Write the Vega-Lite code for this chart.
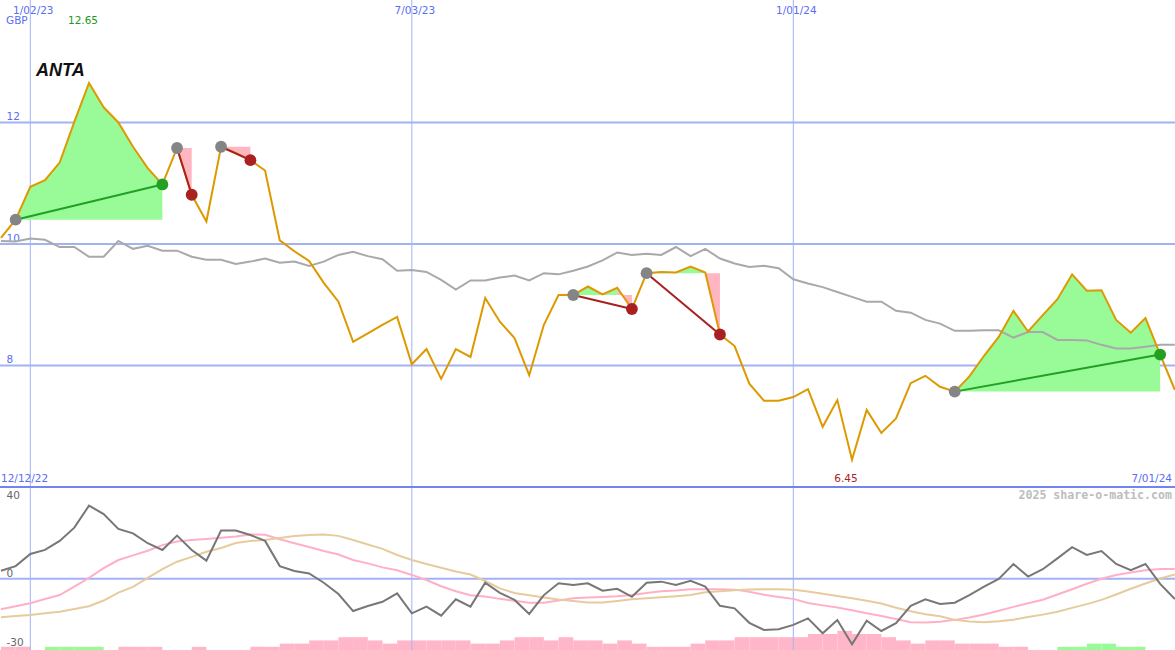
{
"$schema": "https://vega.github.io/schema/vega-lite/v6.json",
"background": "white",
"padding": 0,
"spacing": 0,
"config": {"view": {"stroke": null}, "axis": {"labelFont": "DejaVu Sans", "labelFontSize": 10.5, "titleFont": "DejaVu Sans", "titleFontSize": 10.5, "titleFontWeight": "normal"}, "text": {"font": "DejaVu Sans", "fontSize": 10.5}},
"datasets": {
"weekly": [
{"d":"2022-12-19","c":10.10,"ma":10.05,"o":3.8,"s1":-14.5,"s2":-18.3},
{"d":"2022-12-26","c":10.40,"ma":10.04,"o":6.0,"s1":-13.1,"s2":-17.8},
{"d":"2023-01-02","c":10.94,"ma":10.09,"o":11.8,"s1":-11.7,"s2":-17.3},
{"d":"2023-01-09","c":11.05,"ma":10.07,"o":13.7,"s1":-9.7,"s2":-16.5},
{"d":"2023-01-16","c":11.34,"ma":9.95,"o":18.0,"s1":-7.8,"s2":-15.7},
{"d":"2023-01-23","c":12.01,"ma":9.95,"o":24.3,"s1":-3.8,"s2":-14.4},
{"d":"2023-01-30","c":12.65,"ma":9.79,"o":34.8,"s1":0.4,"s2":-13.1},
{"d":"2023-02-06","c":12.25,"ma":9.79,"o":30.8,"s1":5.0,"s2":-10.4},
{"d":"2023-02-13","c":12.00,"ma":10.05,"o":23.7,"s1":8.9,"s2":-6.6},
{"d":"2023-02-20","c":11.60,"ma":9.92,"o":21.6,"s1":11.1,"s2":-3.9},
{"d":"2023-02-27","c":11.25,"ma":9.97,"o":16.9,"s1":13.3,"s2":0.4},
{"d":"2023-03-06","c":10.98,"ma":9.89,"o":13.7,"s1":16.0,"s2":4.6},
{"d":"2023-03-13","c":11.58,"ma":9.89,"o":20.5,"s1":17.7,"s2":8.1},
{"d":"2023-03-20","c":10.81,"ma":9.79,"o":13.7,"s1":18.4,"s2":10.4},
{"d":"2023-03-27","c":10.37,"ma":9.74,"o":8.6,"s1":18.9,"s2":12.8},
{"d":"2023-04-03","c":11.60,"ma":9.74,"o":22.9,"s1":19.5,"s2":14.6},
{"d":"2023-04-10","c":11.50,"ma":9.67,"o":22.9,"s1":20.1,"s2":17.0},
{"d":"2023-04-17","c":11.38,"ma":9.71,"o":20.8,"s1":21.1,"s2":18.0},
{"d":"2023-04-24","c":11.21,"ma":9.76,"o":18.0,"s1":20.9,"s2":18.4},
{"d":"2023-05-01","c":10.06,"ma":9.69,"o":6.0,"s1":18.8,"s2":19.4},
{"d":"2023-05-08","c":9.88,"ma":9.71,"o":3.7,"s1":16.9,"s2":20.3},
{"d":"2023-05-15","c":9.72,"ma":9.64,"o":2.5,"s1":15.1,"s2":20.8},
{"d":"2023-05-22","c":9.36,"ma":9.71,"o":-1.9,"s1":13.2,"s2":21.1},
{"d":"2023-05-29","c":9.05,"ma":9.82,"o":-7.3,"s1":11.5,"s2":20.4},
{"d":"2023-06-05","c":8.39,"ma":9.87,"o":-15.4,"s1":8.9,"s2":18.4},
{"d":"2023-06-12","c":8.53,"ma":9.80,"o":-13.0,"s1":7.3,"s2":16.3},
{"d":"2023-06-19","c":8.67,"ma":9.75,"o":-11.0,"s1":5.4,"s2":14.2},
{"d":"2023-06-26","c":8.80,"ma":9.56,"o":-7.0,"s1":4.0,"s2":11.3},
{"d":"2023-07-03","c":8.02,"ma":9.57,"o":-16.5,"s1":1.8,"s2":8.9},
{"d":"2023-07-10","c":8.27,"ma":9.54,"o":-13.3,"s1":-0.6,"s2":7.0},
{"d":"2023-07-17","c":7.78,"ma":9.41,"o":-17.6,"s1":-3.6,"s2":5.2},
{"d":"2023-07-24","c":8.27,"ma":9.25,"o":-9.8,"s1":-6.0,"s2":3.4},
{"d":"2023-07-31","c":8.14,"ma":9.40,"o":-13.3,"s1":-7.9,"s2":2.0},
{"d":"2023-08-07","c":9.11,"ma":9.40,"o":-1.9,"s1":-8.5,"s2":-1.1},
{"d":"2023-08-14","c":8.72,"ma":9.45,"o":-6.7,"s1":-9.6,"s2":-4.6},
{"d":"2023-08-21","c":8.45,"ma":9.48,"o":-10.1,"s1":-10.5,"s2":-6.8},
{"d":"2023-08-28","c":7.84,"ma":9.40,"o":-16.8,"s1":-11.4,"s2":-7.9},
{"d":"2023-09-04","c":8.67,"ma":9.52,"o":-7.8,"s1":-11.4,"s2":-8.9},
{"d":"2023-09-11","c":9.16,"ma":9.50,"o":-2.2,"s1":-10.4,"s2":-9.9},
{"d":"2023-09-18","c":9.16,"ma":9.56,"o":-3.0,"s1":-9.3,"s2":-10.6},
{"d":"2023-09-25","c":9.30,"ma":9.63,"o":-2.2,"s1":-8.9,"s2":-11.3},
{"d":"2023-10-02","c":9.17,"ma":9.73,"o":-5.7,"s1":-8.7,"s2":-11.3},
{"d":"2023-10-09","c":9.28,"ma":9.86,"o":-4.8,"s1":-8.4,"s2":-10.6},
{"d":"2023-10-16","c":8.93,"ma":9.82,"o":-8.6,"s1":-7.8,"s2":-9.8},
{"d":"2023-10-23","c":9.52,"ma":9.84,"o":-1.9,"s1":-6.8,"s2":-9.3},
{"d":"2023-10-30","c":9.54,"ma":9.82,"o":-1.4,"s1":-6.0,"s2":-8.8},
{"d":"2023-11-06","c":9.53,"ma":9.95,"o":-3.0,"s1":-5.6,"s2":-8.3},
{"d":"2023-11-13","c":9.63,"ma":9.80,"o":-1.0,"s1":-5.0,"s2":-7.8},
{"d":"2023-11-20","c":9.53,"ma":9.92,"o":-3.8,"s1":-5.0,"s2":-6.5},
{"d":"2023-11-27","c":8.51,"ma":9.76,"o":-12.9,"s1":-5.0,"s2":-6.0},
{"d":"2023-12-04","c":8.32,"ma":9.68,"o":-14.1,"s1":-5.2,"s2":-5.5},
{"d":"2023-12-11","c":7.70,"ma":9.62,"o":-21.0,"s1":-6.2,"s2":-5.1},
{"d":"2023-12-18","c":7.42,"ma":9.64,"o":-24.4,"s1":-7.6,"s2":-5.0},
{"d":"2023-12-25","c":7.42,"ma":9.60,"o":-24.1,"s1":-8.7,"s2":-5.0},
{"d":"2024-01-01","c":7.48,"ma":9.42,"o":-22.0,"s1":-9.6,"s2":-5.3},
{"d":"2024-01-08","c":7.61,"ma":9.35,"o":-18.9,"s1":-11.6,"s2":-6.1},
{"d":"2024-01-15","c":6.99,"ma":9.29,"o":-26.0,"s1":-12.7,"s2":-7.2},
{"d":"2024-01-22","c":7.43,"ma":9.21,"o":-19.7,"s1":-13.7,"s2":-8.2},
{"d":"2024-01-29","c":6.45,"ma":9.13,"o":-31.2,"s1":-15.0,"s2":-9.3},
{"d":"2024-02-05","c":7.27,"ma":9.05,"o":-20.0,"s1":-16.4,"s2":-10.5},
{"d":"2024-02-12","c":6.89,"ma":9.05,"o":-24.9,"s1":-17.8,"s2":-11.8},
{"d":"2024-02-19","c":7.13,"ma":8.90,"o":-21.2,"s1":-19.2,"s2":-13.8},
{"d":"2024-02-26","c":7.71,"ma":8.87,"o":-12.9,"s1":-20.7,"s2":-15.5},
{"d":"2024-03-04","c":7.83,"ma":8.75,"o":-9.8,"s1":-20.9,"s2":-16.9},
{"d":"2024-03-11","c":7.65,"ma":8.69,"o":-12.0,"s1":-20.5,"s2":-17.9},
{"d":"2024-03-18","c":7.57,"ma":8.57,"o":-11.4,"s1":-19.6,"s2":-19.6},
{"d":"2024-03-25","c":7.82,"ma":8.57,"o":-7.8,"s1":-18.5,"s2":-20.4},
{"d":"2024-04-01","c":8.16,"ma":8.58,"o":-3.8,"s1":-17.0,"s2":-20.7},
{"d":"2024-04-08","c":8.47,"ma":8.58,"o":-0.1,"s1":-15.3,"s2":-20.3},
{"d":"2024-04-15","c":8.90,"ma":8.46,"o":7.0,"s1":-13.4,"s2":-19.5},
{"d":"2024-04-22","c":8.56,"ma":8.55,"o":1.0,"s1":-11.7,"s2":-18.2},
{"d":"2024-04-29","c":8.83,"ma":8.55,"o":4.5,"s1":-10.0,"s2":-17.1},
{"d":"2024-05-06","c":9.09,"ma":8.42,"o":9.7,"s1":-7.5,"s2":-15.7},
{"d":"2024-05-13","c":9.50,"ma":8.42,"o":15.0,"s1":-5.0,"s2":-13.9},
{"d":"2024-05-20","c":9.23,"ma":8.41,"o":11.3,"s1":-2.4,"s2":-12.1},
{"d":"2024-05-27","c":9.24,"ma":8.34,"o":13.2,"s1":0.0,"s2":-10.1},
{"d":"2024-06-03","c":8.75,"ma":8.28,"o":7.0,"s1":1.8,"s2":-7.5},
{"d":"2024-06-10","c":8.54,"ma":8.28,"o":4.1,"s1":3.0,"s2":-4.8},
{"d":"2024-06-17","c":8.78,"ma":8.31,"o":7.0,"s1":4.0,"s2":-2.3},
{"d":"2024-06-24","c":8.18,"ma":8.34,"o":-2.5,"s1":4.6,"s2":0.1},
{"d":"2024-07-01","c":7.60,"ma":8.34,"o":-9.7,"s1":4.6,"s2":2.0}
],
"hist": [
{"d":"2022-12-19","e":"2022-12-26","h":1,"dir":"down"},
{"d":"2022-12-26","e":"2023-01-02","h":1,"dir":"down"},
{"d":"2023-01-09","e":"2023-01-16","h":1,"dir":"up"},
{"d":"2023-01-16","e":"2023-01-23","h":1,"dir":"up"},
{"d":"2023-01-23","e":"2023-01-30","h":1,"dir":"up"},
{"d":"2023-01-30","e":"2023-02-06","h":1,"dir":"up"},
{"d":"2023-02-13","e":"2023-02-20","h":1,"dir":"down"},
{"d":"2023-02-20","e":"2023-02-27","h":1,"dir":"down"},
{"d":"2023-02-27","e":"2023-03-06","h":1,"dir":"down"},
{"d":"2023-03-20","e":"2023-03-27","h":1,"dir":"down"},
{"d":"2023-04-17","e":"2023-04-24","h":1,"dir":"down"},
{"d":"2023-04-24","e":"2023-05-01","h":1,"dir":"down"},
{"d":"2023-05-01","e":"2023-05-08","h":2,"dir":"down"},
{"d":"2023-05-08","e":"2023-05-15","h":2,"dir":"down"},
{"d":"2023-05-15","e":"2023-05-22","h":3,"dir":"down"},
{"d":"2023-05-22","e":"2023-05-29","h":3,"dir":"down"},
{"d":"2023-05-29","e":"2023-06-05","h":4,"dir":"down"},
{"d":"2023-06-05","e":"2023-06-12","h":4,"dir":"down"},
{"d":"2023-06-12","e":"2023-06-19","h":3,"dir":"down"},
{"d":"2023-06-19","e":"2023-06-26","h":2,"dir":"down"},
{"d":"2023-06-26","e":"2023-07-03","h":3,"dir":"down"},
{"d":"2023-07-03","e":"2023-07-10","h":3,"dir":"down"},
{"d":"2023-07-10","e":"2023-07-17","h":3,"dir":"down"},
{"d":"2023-07-17","e":"2023-07-24","h":3,"dir":"down"},
{"d":"2023-07-24","e":"2023-07-31","h":3,"dir":"down"},
{"d":"2023-07-31","e":"2023-08-07","h":2,"dir":"down"},
{"d":"2023-08-07","e":"2023-08-14","h":2,"dir":"down"},
{"d":"2023-08-14","e":"2023-08-21","h":3,"dir":"down"},
{"d":"2023-08-21","e":"2023-08-28","h":4,"dir":"down"},
{"d":"2023-08-28","e":"2023-09-04","h":4,"dir":"down"},
{"d":"2023-09-04","e":"2023-09-11","h":3,"dir":"down"},
{"d":"2023-09-11","e":"2023-09-18","h":4,"dir":"down"},
{"d":"2023-09-18","e":"2023-09-25","h":3,"dir":"down"},
{"d":"2023-09-25","e":"2023-10-02","h":3,"dir":"down"},
{"d":"2023-10-02","e":"2023-10-09","h":2,"dir":"down"},
{"d":"2023-10-09","e":"2023-10-16","h":3,"dir":"down"},
{"d":"2023-10-16","e":"2023-10-23","h":2,"dir":"down"},
{"d":"2023-10-23","e":"2023-10-30","h":1,"dir":"down"},
{"d":"2023-10-30","e":"2023-11-06","h":1,"dir":"down"},
{"d":"2023-11-06","e":"2023-11-13","h":1,"dir":"down"},
{"d":"2023-11-13","e":"2023-11-20","h":2,"dir":"down"},
{"d":"2023-11-20","e":"2023-11-27","h":3,"dir":"down"},
{"d":"2023-11-27","e":"2023-12-04","h":3,"dir":"down"},
{"d":"2023-12-04","e":"2023-12-11","h":4,"dir":"down"},
{"d":"2023-12-11","e":"2023-12-18","h":4,"dir":"down"},
{"d":"2023-12-18","e":"2023-12-25","h":4,"dir":"down"},
{"d":"2023-12-25","e":"2024-01-01","h":4,"dir":"down"},
{"d":"2024-01-01","e":"2024-01-08","h":4,"dir":"down"},
{"d":"2024-01-08","e":"2024-01-15","h":5,"dir":"down"},
{"d":"2024-01-15","e":"2024-01-22","h":5,"dir":"down"},
{"d":"2024-01-22","e":"2024-01-29","h":6,"dir":"down"},
{"d":"2024-01-29","e":"2024-02-05","h":5,"dir":"down"},
{"d":"2024-02-05","e":"2024-02-12","h":5,"dir":"down"},
{"d":"2024-02-12","e":"2024-02-19","h":4,"dir":"down"},
{"d":"2024-02-19","e":"2024-02-26","h":3,"dir":"down"},
{"d":"2024-02-26","e":"2024-03-04","h":2,"dir":"down"},
{"d":"2024-03-04","e":"2024-03-11","h":3,"dir":"down"},
{"d":"2024-03-11","e":"2024-03-18","h":3,"dir":"down"},
{"d":"2024-03-18","e":"2024-03-25","h":2,"dir":"down"},
{"d":"2024-03-25","e":"2024-04-01","h":2,"dir":"down"},
{"d":"2024-04-01","e":"2024-04-08","h":2,"dir":"down"},
{"d":"2024-04-08","e":"2024-04-15","h":1,"dir":"down"},
{"d":"2024-04-15","e":"2024-04-22","h":1,"dir":"down"},
{"d":"2024-05-06","e":"2024-05-13","h":1,"dir":"up"},
{"d":"2024-05-13","e":"2024-05-20","h":1,"dir":"up"},
{"d":"2024-05-20","e":"2024-05-27","h":2,"dir":"up"},
{"d":"2024-05-27","e":"2024-06-03","h":2,"dir":"up"},
{"d":"2024-06-03","e":"2024-06-10","h":1,"dir":"up"},
{"d":"2024-06-10","e":"2024-06-17","h":1,"dir":"up"}
],
"shade": [
{"seg":"t1","kind":"gain","d":"2022-12-26","c":10.40,"b":10.40},
{"seg":"t1","kind":"gain","d":"2023-01-02","c":10.94,"b":10.40},
{"seg":"t1","kind":"gain","d":"2023-01-09","c":11.05,"b":10.40},
{"seg":"t1","kind":"gain","d":"2023-01-16","c":11.34,"b":10.40},
{"seg":"t1","kind":"gain","d":"2023-01-23","c":12.01,"b":10.40},
{"seg":"t1","kind":"gain","d":"2023-01-30","c":12.65,"b":10.40},
{"seg":"t1","kind":"gain","d":"2023-02-06","c":12.25,"b":10.40},
{"seg":"t1","kind":"gain","d":"2023-02-13","c":12.00,"b":10.40},
{"seg":"t1","kind":"gain","d":"2023-02-20","c":11.60,"b":10.40},
{"seg":"t1","kind":"gain","d":"2023-02-27","c":11.25,"b":10.40},
{"seg":"t1","kind":"gain","d":"2023-03-06","c":10.98,"b":10.40},
{"seg":"t2","kind":"loss","d":"2023-03-13","c":11.58,"b":11.58},
{"seg":"t2","kind":"loss","d":"2023-03-20","c":10.81,"b":11.58},
{"seg":"t3","kind":"loss","d":"2023-04-03","c":11.60,"b":11.60},
{"seg":"t3","kind":"loss","d":"2023-04-10","c":11.50,"b":11.60},
{"seg":"t3","kind":"loss","d":"2023-04-17","c":11.38,"b":11.60},
{"seg":"t4a","kind":"gain","d":"2023-09-18","c":9.16,"b":9.16},
{"seg":"t4a","kind":"gain","d":"2023-09-25","c":9.30,"b":9.16},
{"seg":"t4a","kind":"gain","d":"2023-10-02","c":9.17,"b":9.16},
{"seg":"t4a","kind":"gain","d":"2023-10-09","c":9.28,"b":9.16},
{"seg":"t4b","kind":"loss","d":"2023-10-09","c":9.28,"b":9.16},
{"seg":"t4b","kind":"loss","d":"2023-10-16","c":8.93,"b":9.16},
{"seg":"t5a","kind":"gain","d":"2023-10-23","c":9.52,"b":9.52},
{"seg":"t5a","kind":"gain","d":"2023-10-30","c":9.54,"b":9.52},
{"seg":"t5a","kind":"gain","d":"2023-11-06","c":9.53,"b":9.52},
{"seg":"t5a","kind":"gain","d":"2023-11-13","c":9.63,"b":9.52},
{"seg":"t5a","kind":"gain","d":"2023-11-20","c":9.53,"b":9.52},
{"seg":"t5b","kind":"loss","d":"2023-11-20","c":9.53,"b":9.52},
{"seg":"t5b","kind":"loss","d":"2023-11-27","c":8.51,"b":9.52},
{"seg":"t6","kind":"gain","d":"2024-03-18","c":7.57,"b":7.57},
{"seg":"t6","kind":"gain","d":"2024-03-25","c":7.82,"b":7.57},
{"seg":"t6","kind":"gain","d":"2024-04-01","c":8.16,"b":7.57},
{"seg":"t6","kind":"gain","d":"2024-04-08","c":8.47,"b":7.57},
{"seg":"t6","kind":"gain","d":"2024-04-15","c":8.90,"b":7.57},
{"seg":"t6","kind":"gain","d":"2024-04-22","c":8.56,"b":7.57},
{"seg":"t6","kind":"gain","d":"2024-04-29","c":8.83,"b":7.57},
{"seg":"t6","kind":"gain","d":"2024-05-06","c":9.09,"b":7.57},
{"seg":"t6","kind":"gain","d":"2024-05-13","c":9.50,"b":7.57},
{"seg":"t6","kind":"gain","d":"2024-05-20","c":9.23,"b":7.57},
{"seg":"t6","kind":"gain","d":"2024-05-27","c":9.24,"b":7.57},
{"seg":"t6","kind":"gain","d":"2024-06-03","c":8.75,"b":7.57},
{"seg":"t6","kind":"gain","d":"2024-06-10","c":8.54,"b":7.57},
{"seg":"t6","kind":"gain","d":"2024-06-17","c":8.78,"b":7.57},
{"seg":"t6","kind":"gain","d":"2024-06-24","c":8.18,"b":7.57}
],
"trades": [
{"d0":"2022-12-26","p0":10.40,"d1":"2023-03-06","p1":10.98,"kind":"gain"},
{"d0":"2023-03-13","p0":11.58,"d1":"2023-03-20","p1":10.81,"kind":"loss"},
{"d0":"2023-04-03","p0":11.60,"d1":"2023-04-17","p1":11.38,"kind":"loss"},
{"d0":"2023-09-18","p0":9.16,"d1":"2023-10-16","p1":8.93,"kind":"loss"},
{"d0":"2023-10-23","p0":9.52,"d1":"2023-11-27","p1":8.51,"kind":"loss"},
{"d0":"2024-03-18","p0":7.57,"d1":"2024-06-24","p1":8.18,"kind":"gain"}
],
"gridDates": [{"t":"2023-01-02"},{"t":"2023-07-03"},{"t":"2024-01-01"}]
},
"vconcat": [
{
"width": 1175, "height": 487,
"layer": [
{"data": {"name": "gridDates"}, "mark": {"type": "rule", "color": "#a3b1f5", "strokeWidth": 1, "clip": true},
 "encoding": {"x": {"field": "t", "type": "temporal", "scale": {"type": "utc", "nice": false, "domain": [{"year": 2022, "month": 12, "date": 18, "hours": 13, "utc": true}, {"year": 2024, "month": 7, "date": 1, "hours": 2, "utc": true}]},
  "axis": {"orient": "top", "values": [{"year": 2023, "month": 1, "date": 2, "utc": true}, {"year": 2023, "month": 7, "date": 3, "utc": true}, {"year": 2024, "month": 1, "date": 1, "utc": true}], "grid": false, "domain": false, "ticks": false, "tickSize": 0, "labelPadding": -13, "labelBaseline": "alphabetic", "labelOffset": 2.5, "labelColor": "#5a6ef0", "labelOverlap": false, "labelExpr": "utcFormat(datum.value, '%-m/%d/%y')", "title": null}}}},
{"data": {"values": [{"g": 8}, {"g": 10}, {"g": 12}]}, "mark": {"type": "rule", "color": "#a3b1f5", "strokeWidth": 2, "clip": true},
 "encoding": {"y": {"field": "g", "type": "quantitative", "scale": {"domain": [6, 14.016], "nice": false, "zero": false},
  "axis": {"orient": "left", "values": [8, 10, 12], "grid": false, "domain": false, "ticks": false, "tickSize": 0, "labelPadding": -6, "labelAlign": "left", "labelBaseline": "alphabetic", "labelOffset": -2.5, "labelColor": "#5a6ef0", "labelOverlap": false, "labelExpr": "'' + datum.value", "title": null}}}},
{"data": {"values": [{}]}, "mark": {"type": "rule", "color": "#7384ee", "strokeWidth": 2, "clip": true},
 "encoding": {"y": {"datum": 6, "type": "quantitative", "axis": {"title": null}}}},
{"data": {"name": "shade"}, "mark": {"type": "area", "opacity": 1, "clip": true},
 "encoding": {"x": {"field": "d", "type": "temporal", "axis": {"title": null}},
  "y": {"field": "c", "type": "quantitative", "axis": {"title": null}}, "y2": {"field": "b"},
  "detail": {"field": "seg"},
  "color": {"field": "kind", "type": "nominal", "scale": {"domain": ["gain", "loss"], "range": ["#98fb98", "#ffb6c1"]}, "legend": null}}},
{"data": {"name": "weekly"}, "mark": {"type": "line", "color": "#a9a9a9", "strokeWidth": 2, "clip": true},
 "encoding": {"x": {"field": "d", "type": "temporal", "axis": {"title": null}}, "y": {"field": "ma", "type": "quantitative", "axis": {"title": null}}}},
{"data": {"name": "weekly"}, "mark": {"type": "line", "color": "#dd9900", "strokeWidth": 2, "clip": true},
 "encoding": {"x": {"field": "d", "type": "temporal", "axis": {"title": null}}, "y": {"field": "c", "type": "quantitative", "axis": {"title": null}}}},
{"data": {"name": "trades"}, "mark": {"type": "rule", "strokeWidth": 2, "clip": true},
 "encoding": {"x": {"field": "d0", "type": "temporal", "axis": {"title": null}}, "x2": {"field": "d1"}, "y": {"field": "p0", "type": "quantitative", "axis": {"title": null}}, "y2": {"field": "p1"},
  "color": {"field": "kind", "type": "nominal", "scale": {"domain": ["gain", "loss"], "range": ["#22a022", "#a82020"]}, "legend": null}}},
{"data": {"name": "trades"}, "mark": {"type": "point", "filled": true, "size": 140, "opacity": 1, "color": "#858585"},
 "encoding": {"x": {"field": "d0", "type": "temporal", "axis": {"title": null}}, "y": {"field": "p0", "type": "quantitative", "axis": {"title": null}}}},
{"data": {"name": "trades"}, "mark": {"type": "point", "filled": true, "size": 140, "opacity": 1},
 "encoding": {"x": {"field": "d1", "type": "temporal", "axis": {"title": null}}, "y": {"field": "p1", "type": "quantitative", "axis": {"title": null}},
  "color": {"field": "kind", "type": "nominal", "scale": {"domain": ["gain", "loss"], "range": ["#22a022", "#a82020"]}, "legend": null}}},
{"data": {"name": "weekly"}, "transform": [{"filter": "datum.c >= 12.65"}], "mark": {"type": "text", "color": "#229922", "dx": -6, "baseline": "middle"},
 "encoding": {"x": {"field": "d", "type": "temporal", "axis": {"title": null}}, "y": {"datum": 13.67, "type": "quantitative", "axis": {"title": null}}, "text": {"field": "c", "type": "quantitative", "format": ".2f"}}},
{"data": {"name": "weekly"}, "transform": [{"filter": "datum.c <= 6.45"}], "mark": {"type": "text", "color": "#aa2222", "dx": -6, "baseline": "middle"},
 "encoding": {"x": {"field": "d", "type": "temporal", "axis": {"title": null}}, "y": {"datum": 6.13, "type": "quantitative", "axis": {"title": null}}, "text": {"field": "c", "type": "quantitative", "format": ".2f"}}},
{"data": {"values": [{}]}, "mark": {"type": "text", "text": "GBP", "color": "#5a6ef0", "align": "left", "baseline": "alphabetic", "dx": 6},
 "encoding": {"x": {"datum": {"year": 2022, "month": 12, "date": 18, "hours": 13, "utc": true}, "type": "temporal", "axis": {"title": null}}, "y": {"datum": 13.617, "type": "quantitative", "axis": {"title": null}}}},
{"data": {"values": [{}]}, "mark": {"type": "text", "text": "12/12/22", "color": "#5a6ef0", "align": "left", "baseline": "middle", "dx": 1},
 "encoding": {"x": {"datum": {"year": 2022, "month": 12, "date": 18, "hours": 13, "utc": true}, "type": "temporal", "axis": {"title": null}}, "y": {"datum": 6.13, "type": "quantitative", "axis": {"title": null}}}},
{"data": {"values": [{}]}, "mark": {"type": "text", "text": "7/01/24", "color": "#5a6ef0", "align": "right", "baseline": "middle", "dx": -3},
 "encoding": {"x": {"datum": {"year": 2024, "month": 7, "date": 1, "hours": 2, "utc": true}, "type": "temporal", "axis": {"title": null}}, "y": {"datum": 6.13, "type": "quantitative", "axis": {"title": null}}}},
{"data": {"values": [{}]}, "mark": {"type": "text", "text": "ANTA", "color": "#111111", "align": "left", "baseline": "alphabetic", "font": "Liberation Sans Narrow, Liberation Sans, sans-serif", "fontSize": 18, "fontWeight": "bold", "fontStyle": "italic"},
 "encoding": {"x": {"datum": {"year": 2023, "month": 1, "date": 4, "hours": 17, "utc": true}, "type": "temporal", "axis": {"title": null}}, "y": {"datum": 12.765, "type": "quantitative", "axis": {"title": null}}}}
],
"resolve": {"scale": {"color": "independent"}}
},
{
"width": 1175, "height": 163,
"layer": [
{"data": {"name": "hist"}, "mark": {"type": "rect"},
 "encoding": {"x": {"field": "d", "type": "temporal", "scale": {"type": "utc", "nice": false, "domain": [{"year": 2022, "month": 12, "date": 18, "hours": 13, "utc": true}, {"year": 2024, "month": 7, "date": 1, "hours": 2, "utc": true}]}, "axis": null},
  "x2": {"field": "e"},
  "y": {"field": "h", "type": "quantitative", "scale": {"domain": [0, 51], "nice": false}, "axis": null}, "y2": {"datum": 0},
  "color": {"field": "dir", "type": "nominal", "scale": {"domain": ["up", "down"], "range": ["#98fb98", "#ffb6c8"]}, "legend": null}}},
{"layer": [
 {"data": {"name": "gridDates"}, "mark": {"type": "rule", "color": "#a3b1f5", "strokeWidth": 1, "clip": true},
  "encoding": {"x": {"field": "t", "type": "temporal", "axis": null}}},
 {"data": {"values": [{}]}, "mark": {"type": "rule", "color": "#a3b1f5", "strokeWidth": 2, "clip": true},
  "encoding": {"y": {"datum": 0, "type": "quantitative", "scale": {"domain": [-33.95, 43.67], "nice": false, "zero": false},
   "axis": {"orient": "left", "values": [40, 0, -30], "grid": false, "domain": false, "ticks": false, "tickSize": 0, "labelPadding": -6, "labelAlign": "left",
    "labelBaseline": {"condition": {"test": "datum.value === 0", "value": "alphabetic"}, "value": "middle"},
    "labelOffset": {"condition": {"test": "datum.value === 0", "value": -2.5}, "value": 1},
    "labelExpr": "'' + datum.value",
    "labelColor": "#666666", "labelOverlap": false, "title": null}}}},
 {"data": {"values": [{}]}, "mark": {"type": "rule", "color": "#7384ee", "strokeWidth": 2, "clip": true},
  "encoding": {"y": {"datum": 43.67, "type": "quantitative", "axis": {"title": null}}}},
 {"data": {"name": "weekly"}, "mark": {"type": "line", "color": "#ffb0c8", "strokeWidth": 2, "clip": true},
  "encoding": {"x": {"field": "d", "type": "temporal", "axis": null}, "y": {"field": "s1", "type": "quantitative", "axis": {"title": null}}}},
 {"data": {"name": "weekly"}, "mark": {"type": "line", "color": "#e6cc9c", "strokeWidth": 2, "clip": true},
  "encoding": {"x": {"field": "d", "type": "temporal", "axis": null}, "y": {"field": "s2", "type": "quantitative", "axis": {"title": null}}}},
 {"data": {"name": "weekly"}, "mark": {"type": "line", "color": "#777777", "strokeWidth": 2, "clip": true},
  "encoding": {"x": {"field": "d", "type": "temporal", "axis": null}, "y": {"field": "o", "type": "quantitative", "axis": {"title": null}}}},
 {"data": {"values": [{}]}, "mark": {"type": "text", "text": "2025 share-o-matic.com", "color": "#bdbdbd", "align": "right", "baseline": "middle", "dx": -3, "font": "DejaVu Sans Mono", "fontSize": 11.6, "fontWeight": "bold"},
  "encoding": {"x": {"datum": {"year": 2024, "month": 7, "date": 1, "hours": 2, "utc": true}, "type": "temporal", "axis": null}, "y": {"datum": 39.4, "type": "quantitative", "axis": {"title": null}}}}
]}
],
"resolve": {"scale": {"y": "independent", "color": "independent"}}
}
]
}
